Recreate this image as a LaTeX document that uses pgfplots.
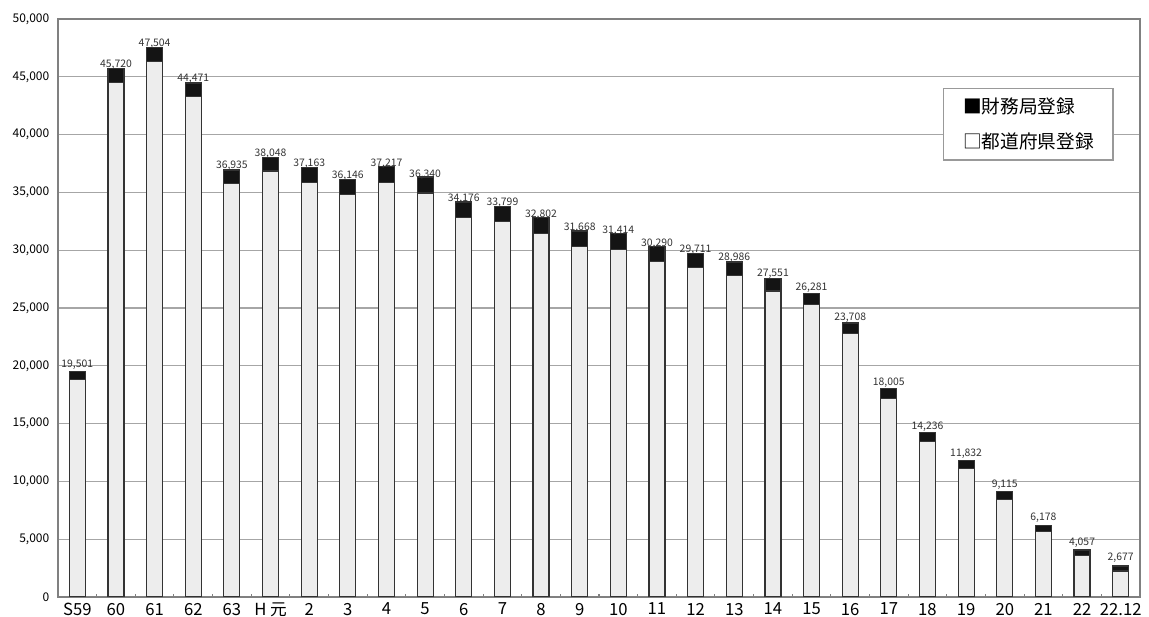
\documentclass[border=0pt]{standalone}
\usepackage{fontspec}
\setmainfont{Noto Sans CJK JP}
\usepackage{pgfplots}
\usepackage{pgfplotstable}
\pgfplotsset{compat=1.18}
\pgfplotstableread{
x gray black total
0 18801 700 19501
1 44520 1200 45720
2 46304 1200 47504
3 43271 1200 44471
4 35785 1150 36935
5 36848 1200 38048
6 35863 1300 37163
7 34846 1300 36146
8 35867 1350 37217
9 34940 1400 36340
10 32826 1350 34176
11 32499 1300 33799
12 31452 1350 32802
13 30288 1380 31668
14 30084 1330 31414
15 29050 1240 30290
16 28511 1200 29711
17 27786 1200 28986
18 26471 1080 27551
19 25301 980 26281
20 22788 920 23708
21 17145 860 18005
22 13436 800 14236
23 11082 750 11832
24 8455 660 9115
25 5658 520 6178
26 3567 490 4057
27 2247 430 2677
}\data
\begin{document}
\begin{tikzpicture}[x=1pt,y=1pt]
\useasboundingbox (-43.5,-15) rectangle (818.25,447.75);
\begin{axis}[
  at={(0,0)}, anchor=south west,
  scale only axis, width=811.5pt, height=433.5pt,
  ybar stacked, bar width=12pt,
  xmin=-0.5, xmax=27.5, ymin=0, ymax=50000,
  ytick={0,5000,...,50000},
  scaled y ticks=false,
  ymajorgrids,
  grid style={draw=black!35, line width=0.9pt},
  axis line style={draw=black!50, line width=0.9pt},
  xtick=data,
  xticklabels={S59,60,61,62,63,H 元,2,3,4,5,6,7,8,9,10,11,12,13,14,15,16,17,18,19,20,21,22,22.12},
  minor xtick={0.5,1.5,...,26.5},
  xtick pos=bottom, ytick pos=left,
  major tick length=0pt, minor tick length=2.5pt,
  tick style={draw=black!50, line width=0.8pt},
  /pgf/number format/assume math mode=true,
  yticklabel style={font=\fontsize{9}{10}\selectfont, /pgf/number format/fixed, /pgf/number format/1000 sep={,}, xshift=-3pt},
  xticklabel style={font=\fontsize{12.5}{13}\selectfont, yshift=-1pt},
  legend image code/.code={},
  reverse legend,
  legend cell align=left,
  legend style={at={(0.818,0.8806)}, anchor=north west, draw=black!40, line width=0.9pt,
    font=\fontsize{14}{16}\selectfont, inner xsep=12.5pt, inner ysep=5pt, row sep=9pt},
]
\addplot[fill=black!7, draw=black!80, line width=0.9pt] table[x=x, y=gray] {\data};
\addlegendentry{□都道府県登録}
\addplot[fill=black!92, draw=black!80, line width=0.9pt,
  nodes near coords, point meta=explicit,
  nodes near coords style={font=\fontsize{7.8}{8}\selectfont, text=black!80, anchor=south, inner sep=1.5pt, yshift=2.5pt,
    /pgf/number format/fixed, /pgf/number format/precision=0, /pgf/number format/1000 sep={,}}]
  table[x=x, y=black, meta=total] {\data};
\addlegendentry{■財務局登録}
\end{axis}
\end{tikzpicture}
\end{document}
